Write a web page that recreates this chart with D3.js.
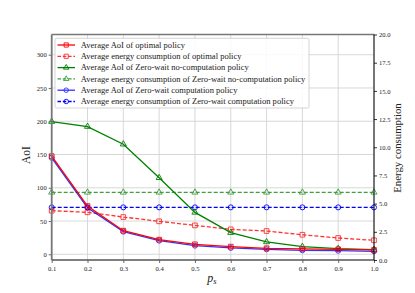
<!DOCTYPE html>
<html>
<head>
<meta charset="utf-8">
<script src="https://cdn.jsdelivr.net/npm/d3@7"></script>
<style>
  html, body { margin: 0; padding: 0; background: #fff; }
  svg { display: block; }
  text { font-family: "Liberation Serif", "DejaVu Serif", serif; fill: #222; }
</style>
</head>
<body>
<svg id="chart" width="415" height="293"></svg>
<script>
// ---- data ----
const ps = [0.1, 0.2, 0.3, 0.4, 0.5, 0.6, 0.7, 0.8, 0.9, 1.0];
const aoiOptimal = [147.5, 72.5, 35.5, 22, 15, 11.5, 9, 8, 7.5, 6.5];
const energyOptimal = [4.37, 4.23, 3.81, 3.43, 3.07, 2.72, 2.57, 2.24, 1.95, 1.75];
const aoiZwNoComp = [199.5, 192, 165.5, 115, 63, 32.5, 18.5, 11.5, 8.5, 7];
const energyZwNoComp = [6.0, 6.0, 6.0, 6.0, 6.0, 6.0, 6.0, 6.0, 6.0, 6.0];
const aoiZwComp = [145, 70, 34, 20.5, 13, 9.5, 7.5, 6, 5.4, 4.5];
const energyZwComp = [4.67, 4.67, 4.67, 4.67, 4.67, 4.67, 4.67, 4.67, 4.67, 4.67];
const xTicks = [0.1, 0.2, 0.3, 0.4, 0.5, 0.6, 0.7, 0.8, 0.9, 1.0];
const yLeftTicks = [0, 50, 100, 150, 200, 250, 300];
const yRightTicks = [0, 2.5, 5, 7.5, 10, 12.5, 15, 17.5, 20];
const legendLabels = [
  "Average AoI of optimal policy",
  "Average energy consumption of optimal policy",
  "Average AoI of Zero-wait no-computation policy",
  "Average energy consumption of Zero-wait no-computation policy",
  "Average AoI of Zero-wait computation policy",
  "Average energy consumption of Zero-wait computation policy"
];

// ---- layout ----
const L = 51.7, R = 374, T = 34.5, B = 260;
const svg = d3.select("#chart");
const x = d3.scaleLinear().domain([0.1, 1.0]).range([L, R]);
const yL = d3.scaleLinear().domain([-8.6, 330.4]).range([B, T]);
const yR = d3.scaleLinear().domain([0, 20]).range([B, T]);

// grid
const grid = svg.append("g");
grid.selectAll("line.v").data(xTicks).enter().append("line")
  .attr("x1", d => x(d)).attr("x2", d => x(d)).attr("y1", T).attr("y2", B)
  .attr("stroke", "#d4d4d4").attr("stroke-width", 0.9);
grid.selectAll("line.h").data(yLeftTicks).enter().append("line")
  .attr("x1", L).attr("x2", R).attr("y1", d => yL(d)).attr("y2", d => yL(d))
  .attr("stroke", "#d4d4d4").attr("stroke-width", 0.9);

// axes
const fmt1 = d3.format(".1f");
const xAxis = d3.axisBottom(x).tickValues(xTicks).tickFormat(fmt1).tickSize(3).tickPadding(3);
const yAxisL = d3.axisLeft(yL).tickValues(yLeftTicks).tickFormat(d3.format("d")).tickSize(3).tickPadding(2);
const yAxisR = d3.axisRight(yR).tickValues(yRightTicks).tickFormat(fmt1).tickSize(3).tickPadding(2);

function styleAxis(g, col) {
  g.select(".domain").remove();
  g.selectAll(".tick line").attr("stroke", col).attr("stroke-width", 0.8);
  g.selectAll(".tick text").attr("font-size", 6.6).attr("fill", "#333")
    .style("font-family", '"Liberation Serif", serif');
}
svg.append("g").attr("transform", `translate(0,${B})`).call(xAxis).call(g => styleAxis(g, "#444"));
svg.append("g").attr("transform", `translate(${L},0)`).call(yAxisL).call(g => styleAxis(g, "#444"));
svg.append("g").attr("transform", `translate(${R},0)`).call(yAxisR).call(g => styleAxis(g, "#000"));

// series
const series = [
  { v: aoiOptimal, y: yL, color: "#ff0000", dash: null, marker: "square", op: 1 },
  { v: energyOptimal, y: yR, color: "#ff0000", dash: "4,2", marker: "square", op: 0.8 },
  { v: aoiZwNoComp, y: yL, color: "#008000", dash: null, marker: "triangle", op: 1 },
  { v: energyZwNoComp, y: yR, color: "#008000", dash: "4,2", marker: "triangle", op: 0.75 },
  { v: aoiZwComp, y: yL, color: "#0000ff", dash: null, marker: "circle", op: 0.8 },
  { v: energyZwComp, y: yR, color: "#0000ff", dash: "4,2", marker: "circle", op: 1 }
];
const symType = { square: d3.symbolSquare, triangle: d3.symbolTriangle, circle: d3.symbolCircle };
const symSize = { square: 22, triangle: 16, circle: 20 };

const plot = svg.append("g");
const order = [3, 5, 1, 2, 4, 0];
order.forEach(i => {
  const s = series[i];
  const g = plot.append("g").attr("opacity", s.op);
  const line = d3.line().x((d, j) => x(ps[j])).y(d => s.y(d));
  g.append("path").datum(s.v).attr("d", line).attr("fill", "none")
    .attr("stroke", s.color).attr("stroke-width", 1.3)
    .attr("stroke-dasharray", s.dash);
  g.selectAll("path.m").data(s.v).enter().append("path")
    .attr("d", d3.symbol().type(symType[s.marker]).size(symSize[s.marker]))
    .attr("transform", (d, j) => `translate(${x(ps[j])},${s.y(d)})`)
    .attr("fill", "none").attr("stroke", s.color).attr("stroke-width", 0.9);
});

// frame
svg.append("line").attr("x1", L).attr("x2", R).attr("y1", T).attr("y2", T).attr("stroke", "#777").attr("stroke-width", 1.6);
svg.append("line").attr("x1", L).attr("x2", R).attr("y1", B).attr("y2", B).attr("stroke", "#555").attr("stroke-width", 1.4);
svg.append("line").attr("x1", L).attr("x2", L).attr("y1", T).attr("y2", B).attr("stroke", "#777").attr("stroke-width", 1.8);
svg.append("line").attr("x1", R).attr("x2", R).attr("y1", T).attr("y2", B).attr("stroke", "#000").attr("stroke-width", 1);

// legend
const lg = svg.append("g");
lg.append("rect").attr("x", 55).attr("y", 38.3).attr("width", 254).attr("height", 69.7)
  .attr("rx", 1.5).attr("fill", "#fff").attr("fill-opacity", 0.85)
  .attr("stroke", "#cfcfcf").attr("stroke-width", 0.9);
legendLabels.forEach((lab, i) => {
  const s = series[i];
  const yy = 45 + i * 11.3;
  const g = lg.append("g").attr("opacity", s.op);
  g.append("line").attr("x1", 57.5).attr("x2", 75).attr("y1", yy).attr("y2", yy)
    .attr("stroke", s.color).attr("stroke-width", 1.3).attr("stroke-dasharray", s.dash ? "3.5,1.8" : null);
  g.append("path").attr("d", d3.symbol().type(symType[s.marker]).size(symSize[s.marker] * 0.8))
    .attr("transform", `translate(66.2,${yy})`).attr("fill", "none")
    .attr("stroke", s.color).attr("stroke-width", 0.9);
  lg.append("text").attr("x", 80.7).attr("y", yy).attr("dy", "0.33em")
    .attr("font-size", 8.55).text(lab);
});

// axis labels
svg.append("text").attr("transform", `translate(30,155) rotate(-90)`)
  .attr("text-anchor", "middle").attr("font-size", 11.5).text("AoI");
svg.append("text").attr("transform", `translate(401,148) rotate(-90)`)
  .attr("text-anchor", "middle").attr("font-size", 10.8).text("Energy consumption");
const xl = svg.append("text").attr("x", 212).attr("y", 282).attr("text-anchor", "middle")
  .attr("font-size", 12);
xl.append("tspan").attr("font-style", "italic").text("p");
xl.append("tspan").attr("font-style", "italic").attr("font-size", 8.5).attr("dy", 2).text("s");
</script>
</body>
</html>
